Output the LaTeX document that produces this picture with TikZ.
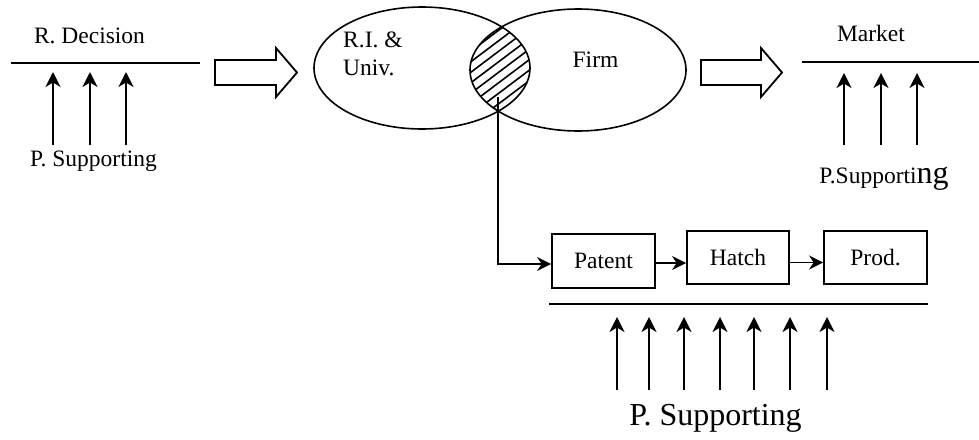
\documentclass[tikz,border=0pt]{standalone}
\usepackage{fontspec}
\setmainfont{Liberation Serif}
\usetikzlibrary{arrows.meta}
\tikzset{
  txt/.style={inner sep=0pt, anchor=base, font=\fontsize{23.5}{28}\selectfont},
  bigtxt/.style={inner sep=0pt, anchor=base, font=\fontsize{32}{38}\selectfont},
  ln/.style={line width=1.8pt},
  uparrow/.style={line width=1.8pt, -{Stealth[length=15pt,width=15pt,inset=4.5pt]}},
  flow/.style={line width=1.8pt, -{Stealth[length=14pt,width=14pt,inset=4.5pt]}},
  blockarrow/.style={line width=1.8pt, line join=miter},
  stagebox/.style={draw, line width=1.8pt, inner sep=0pt, font=\fontsize{23.5}{28}\selectfont},
  oval/.style={line width=1.6pt},
  hatchline/.style={line width=1.6pt}
}
\begin{document}
\begin{tikzpicture}[x=1pt,y=-1pt]
\useasboundingbox (0,0) rectangle (979,439);

% ---- left group
\node[txt] (rdec) at (89.5,43) {R. Decision};
\coordinate (l1a) at (11,63);
\coordinate (l1b) at (200,63);
\draw[ln] (l1a) -- (l1b);
\foreach \x in {53,90,126} \draw[uparrow] (\x,145) -- (\x,72);
\node[txt] (ps1) at (93.5,166) {P. Supporting};

% ---- block arrow 1
\draw[blockarrow] (215,60) -- (276,60) -- (276,48) -- (297,72.5) -- (276,97) -- (276,85) -- (215,85) -- cycle;

% ---- ellipses
\coordinate (e1) at (422,68);
\coordinate (e2) at (578,70);
\begin{scope}
  \clip (e1) ellipse [x radius=108, y radius=61];
  \clip (e2) ellipse [x radius=108, y radius=61];
  \foreach \c in {22,32.5,...,240}
    \draw[hatchline] (440,\c) -- (570,\c-98);
\end{scope}
\draw[oval] (e1) ellipse [x radius=108, y radius=61];
\draw[oval] (e2) ellipse [x radius=108, y radius=61];
\node[txt, anchor=base west] (ri) at (343,47) {R.I. \&};
\node[txt, anchor=base west] (univ) at (343,75) {Univ.};
\node[txt] (firm) at (595.5,67) {Firm};

% ---- block arrow 2
\draw[blockarrow] (701,60) -- (761,60) -- (761,48) -- (782,72.5) -- (761,97) -- (761,85) -- (701,85) -- cycle;

% ---- right group
\node[txt] (market) at (871,41) {Market};
\coordinate (l2a) at (802,62);
\coordinate (l2b) at (979,62);
\draw[ln] (l2a) -- (l2b);
\foreach \x in {844,881,917} \draw[uparrow] (\x,145) -- (\x,73);
\node[txt] (ps2) at (884,183) {P.Supporti{\fontsize{32}{38}\selectfont ng}};

% ---- boxes
\node[stagebox, minimum width=103pt, minimum height=54pt] (patent) at (603.5,261) {Patent};
\node[stagebox, minimum width=102pt, minimum height=53pt] (hatch) at (738,257.5) {Hatch};
\node[stagebox, minimum width=103pt, minimum height=53pt] (prod) at (875.5,257.5) {Prod.};
\coordinate (lensbottom) at (498,97);
\draw[flow] (lensbottom) |- ([yshift=-3pt]patent.west);
\draw[flow] ([yshift=-2pt]patent.east) -- ([yshift=-2pt]patent.east -| hatch.west);
\draw[flow] ([yshift=-5pt]hatch.east) -- ([yshift=-5pt]hatch.east -| prod.west);

% ---- bottom group
\coordinate (l3a) at (549,304);
\coordinate (l3b) at (928,304);
\draw[ln] (l3a) -- (l3b);
\foreach \x in {617,649,684,720,754,790,827} \draw[uparrow] (\x,390) -- (\x,317);
\node[bigtxt] (ps3) at (715.5,425) {P. Supporting};
\end{tikzpicture}
\end{document}
